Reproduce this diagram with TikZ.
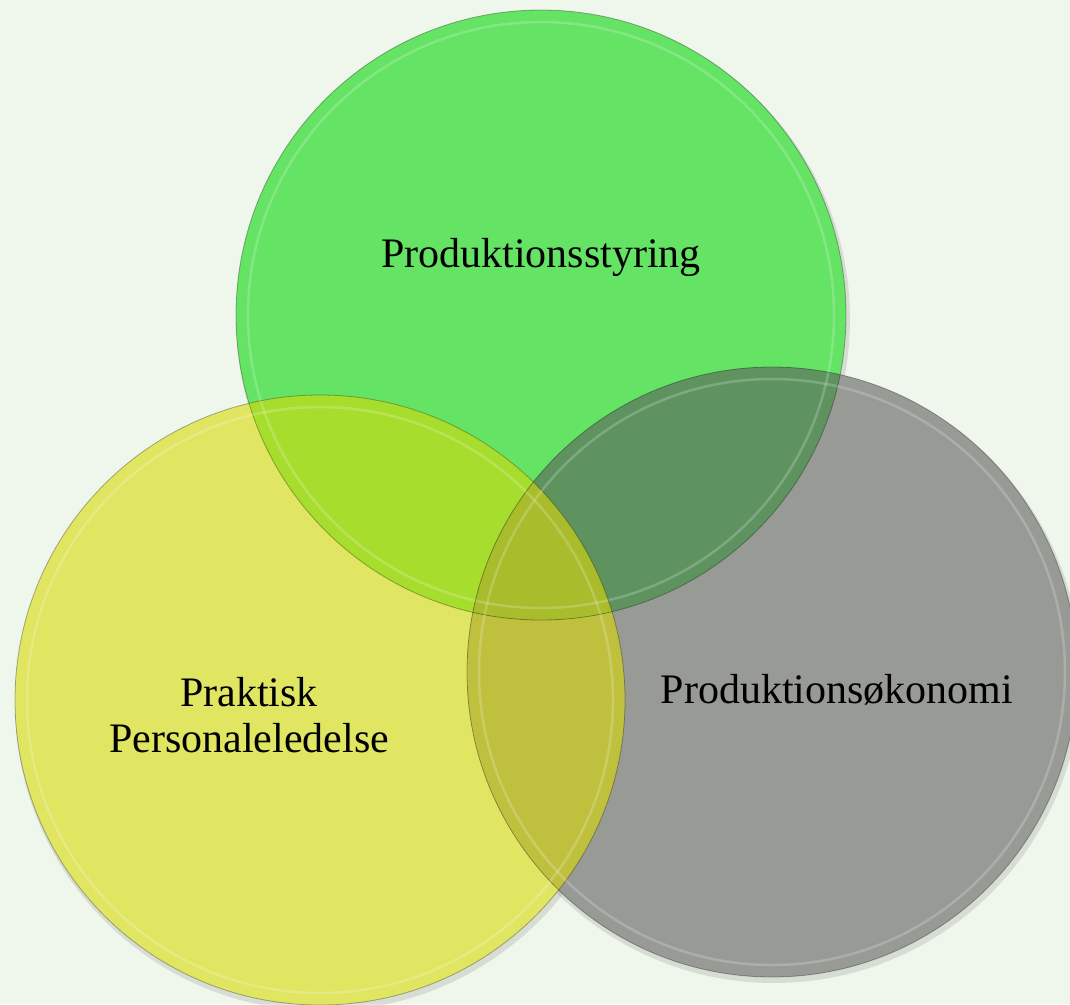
\documentclass[tikz,border=0pt]{standalone}
\usepackage{fontspec}
\setmainfont{Liberation Serif}
\usetikzlibrary{calc}

\definecolor{bgmint}{HTML}{EFF7EC}
\definecolor{styring}{HTML}{64E364}
\definecolor{personale}{HTML}{E0E562}
\definecolor{oekonomi}{HTML}{989A96}
\definecolor{styringpersonale}{HTML}{A7DD2D}
\definecolor{styringoekonomi}{HTML}{5E9360}
\definecolor{personaleoekonomi}{HTML}{BFC03E}
\definecolor{alle}{HTML}{A8BC2C}

\tikzset{
    rim/.style={draw=black, draw opacity=0.3, line width=0.8pt},
    gloss/.style={draw=white, draw opacity=0.2, line width=2.5pt},
    venntext/.style={font=\fontsize{42}{46}\selectfont, align=center, text=black},
}

\begin{document}
\begin{tikzpicture}[x=1pt, y=-1pt]

    % background
    \useasboundingbox (0,0) rectangle (1070,1004);
    \fill[bgmint] (0,0) rectangle (1070,1004);

    % centres
    \def\r{305pt}
    \coordinate (c_styring) at (541,315);
    \coordinate (c_personale) at (320,700);
    \coordinate (c_oekonomi) at (772,672);

    % shadows
    \foreach \c in {c_styring, c_personale, c_oekonomi}
        \fill[black, opacity=0.10] ($(\c)+(2,4)$) circle (\r+2pt);

    % circles
    \fill[styring] (c_styring) circle (\r);
    \fill[personale] (c_personale) circle (\r);
    \fill[oekonomi] (c_oekonomi) circle (\r);

    % overlaps
    \begin{scope}
        \clip (c_personale) circle (\r);
        \fill[personaleoekonomi] (c_oekonomi) circle (\r);
    \end{scope}
    \begin{scope}
        \clip (c_styring) circle (\r);
        \fill[styringpersonale] (c_personale) circle (\r);
        \fill[styringoekonomi] (c_oekonomi) circle (\r);
        \clip (c_personale) circle (\r);
        \fill[alle] (c_oekonomi) circle (\r);
    \end{scope}

    % rims
    \foreach \c in {c_styring, c_personale, c_oekonomi} {
        \draw[gloss] (\c) circle (\r-12pt);
        \draw[rim] (\c) circle (\r);
    }

    % labels
    \node[venntext] (styring) at (541,257) {Produktionsstyring};
    \node[venntext] (personale) at (249,715) {Praktisk\\Personaleledelse};
    \node[venntext] (oekonomi) at (837,690) {Produktionsøkonomi};

\end{tikzpicture}
\end{document}
